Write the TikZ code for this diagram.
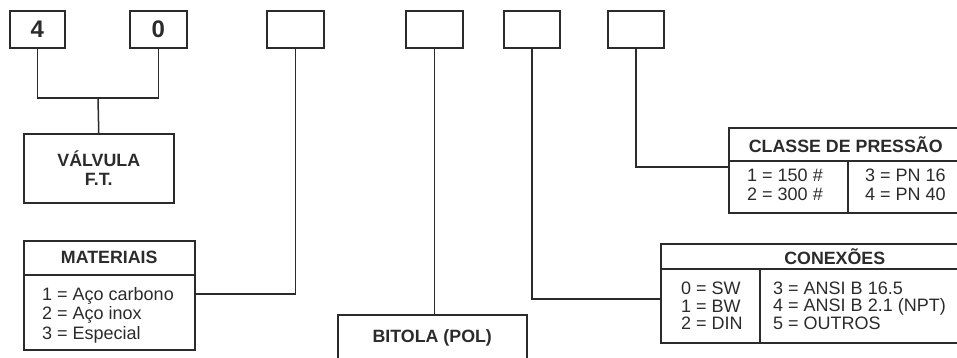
\documentclass[tikz,border=0pt]{standalone}
\usepackage{fontspec}
\setmainfont{Liberation Sans}
\definecolor{ink}{HTML}{2B2B2B}
\begin{document}
\begin{tikzpicture}[x=1pt,y=-1pt,
  ln/.style={draw=ink,line width=1.5pt},
  box/.style={draw=ink,line width=1.5pt,rectangle,inner sep=0pt,anchor=north west,text=ink},
  hdr/.style={font=\fontsize{17.8}{18.8}\selectfont\bfseries},
  dig/.style={font=\fontsize{24}{26}\selectfont\bfseries},
  itm/.style={anchor=west,align=left,inner sep=0pt,text=ink,font=\fontsize{18}{18.8}\selectfont},
  itmm/.style={itm,font=\fontsize{18}{19.5}\selectfont},
  itmc/.style={itm,font=\fontsize{18}{17.6}\selectfont}]
\useasboundingbox (0,0) rectangle (957,357);
\clip (0,0) rectangle (957,357);
% top code boxes
\node[box,dig,minimum width=55pt,minimum height=37pt] (b1) at (9,10) {4};
\node[box,dig,minimum width=57pt,minimum height=37pt] (b2) at (129,10) {0};
\node[box,minimum width=57pt,minimum height=37pt] (b3) at (266,10) {};
\node[box,minimum width=57pt,minimum height=37pt] (b4) at (405,10) {};
\node[box,minimum width=56pt,minimum height=37pt] (b5) at (503,10) {};
\node[box,minimum width=56pt,minimum height=37pt] (b6) at (607,10) {};
% valvula
\node[box,hdr,align=center,minimum width=150pt,minimum height=69pt] (valv) at (23,133) {VÁLVULA\\F.T.};
% materiais
\node[box,hdr,minimum width=171pt,minimum height=34pt] (mathead) at (23,240) {MATERIAIS};
\node[box,minimum width=171pt,minimum height=75pt] (matbody) at (23,274) {};
\node[itmm] (mattext) at ([xshift=19pt,yshift=-3pt]matbody.west) {1 = Aço carbono\\2 = Aço inox\\3 = Especial};
% bitola
\node[box,hdr,minimum width=189pt,minimum height=46pt] (bitola) at (337,314) {BITOLA (POL)};
% classe de pressao
\node[box,hdr,minimum width=234pt,minimum height=33pt] (clhead) at (728,127) {CLASSE DE PRESSÃO};
\node[box,minimum width=119pt,minimum height=52pt] (cl1) at (728,160) {};
\node[box,minimum width=115pt,minimum height=52pt] (cl2) at (847,160) {};
\node[itm] (cl1text) at ([xshift=19pt,yshift=2pt]cl1.west) {1 = 150 \#\\2 = 300 \#};
\node[itm] (cl2text) at ([xshift=18pt,yshift=2pt]cl2.west) {3 = PN 16\\4 = PN 40};
% conexoes
\node[box,hdr,minimum width=348pt,minimum height=25pt] (conhead) at (660,243) {CONEXÕES};
\node[box,minimum width=99pt,minimum height=74pt] (con1) at (660,268) {};
\node[box,minimum width=249pt,minimum height=74pt] (con2) at (759,268) {};
\node[itmc] (con1text) at ([xshift=21pt]con1.west) {0 = SW\\1 = BW\\2 = DIN};
\node[itmc] (con2text) at ([xshift=14pt]con2.west) {3 = ANSI B 16.5\\4 = ANSI B 2.1 (NPT)\\5 = OUTROS};
% connectors
\coordinate (j) at (98,98);
\draw[ln] (b1.south) |- (j) -| (b2.south);
\draw[ln] (j) -- (valv.north);
\draw[ln] (b3.south) |- ([yshift=-20pt]matbody.north east);
\draw[ln] (b4.south) -- (b4.south |- bitola.north);
\draw[ln] (b5.south) |- ([yshift=7pt]con1.west);
\draw[ln] (b6.south) |- ([yshift=-7pt]cl1.north west);
\end{tikzpicture}
\end{document}
